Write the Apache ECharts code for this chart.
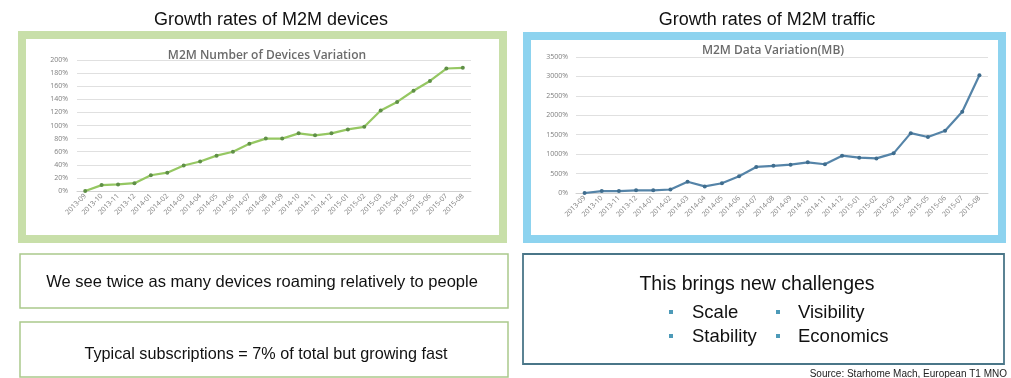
<!DOCTYPE html>
<html>
<head>
<meta charset="utf-8">
<script src="https://cdn.jsdelivr.net/npm/echarts@6/dist/echarts.min.js"></script>
<style>
html,body{margin:0;padding:0;background:#fff;}
#c{width:1011px;height:378px;}
</style>
</head>
<body>
<div id="c"></div>
<script>
var months = ['2013-09','2013-10','2013-11','2013-12','2014-01','2014-02','2014-03','2014-04','2014-05','2014-06','2014-07','2014-08','2014-09','2014-10','2014-11','2014-12','2015-01','2015-02','2015-03','2015-04','2015-05','2015-06','2015-07','2015-08'];
var devicesGrowth = [0,9,10,12,24,28,39,45,54,60,72,80,80,88,85,88,94,98,123,136,153,168,187,188];
var trafficGrowth = [0,50,50,70,70,90,290,170,250,430,670,700,730,790,740,960,910,890,1020,1540,1440,1600,2090,3030];
var devicesTicks = {min:0, max:200, interval:20};
var trafficTicks = {min:0, max:3500, interval:500};

var chart = echarts.init(document.getElementById('c'), null, {renderer:'canvas'});

var pct = function(v){ return v + '%'; };
var axisLabelY = {fontSize:7, color:'#7f7f7f', formatter:pct, fontFamily:'Open Sans'};
var axisLabelX = {fontSize:7, color:'#7f7f7f', rotate:45, interval:0, margin:4, fontFamily:'Open Sans'};
var splitLine = {show:true, lineStyle:{color:'#e0e0e0', width:1}};

var txt = function(x, y, s, size, opts) {
  opts = opts || {};
  return {type:'text', x:x, y:y, z:10, style:{text:s, font:(opts.weight||'normal')+' '+size+'px "Liberation Sans", Arial, sans-serif', fill:opts.color||'#111', align:opts.align||'center', verticalAlign:'middle'}};
};

chart.setOption({
  animation:false,
  backgroundColor:'#fff',
  title:[
    {text:'M2M Number of Devices Variation', left:262, top:45, textAlign:'center', textStyle:{fontSize:12, fontWeight:600, color:'#6b6b6b', fontFamily:'Open Sans'}},
    {text:'M2M Data Variation(MB)', left:768, top:40, textAlign:'center', textStyle:{fontSize:12, fontWeight:600, color:'#6b6b6b', fontFamily:'Open Sans'}}
  ],
  grid:[
    {left:77, width:394, top:60, height:131, containLabel:false},
    {left:576, width:412, top:57, height:136, containLabel:false}
  ],
  xAxis:[
    {type:'category', gridIndex:0, data:months, boundaryGap:true, axisLine:{lineStyle:{color:'#d0d0d0'}}, axisTick:{show:false}, axisLabel:axisLabelX},
    {type:'category', gridIndex:1, data:months, boundaryGap:true, axisLine:{lineStyle:{color:'#d0d0d0'}}, axisTick:{show:false}, axisLabel:axisLabelX}
  ],
  yAxis:[
    {type:'value', gridIndex:0, min:devicesTicks.min, max:devicesTicks.max, interval:devicesTicks.interval, axisLine:{show:false}, axisTick:{show:false}, axisLabel:Object.assign({margin:9}, axisLabelY), splitLine:splitLine},
    {type:'value', gridIndex:1, min:trafficTicks.min, max:trafficTicks.max, interval:trafficTicks.interval, axisLine:{show:false}, axisTick:{show:false}, axisLabel:Object.assign({margin:8}, axisLabelY), splitLine:splitLine}
  ],
  series:[
    {type:'line', xAxisIndex:0, yAxisIndex:0, data:devicesGrowth, symbol:'circle', symbolSize:4, lineStyle:{color:'#95c762', width:2.2}, itemStyle:{color:'#5f8f47'}},
    {type:'line', xAxisIndex:1, yAxisIndex:1, data:trafficGrowth, symbol:'circle', symbolSize:4, lineStyle:{color:'#5584a8', width:2.2}, itemStyle:{color:'#3f6d8e'}}
  ],
  graphic:[
    {type:'rect', z:-1, shape:{x:22, y:35, width:481, height:204}, style:{fill:'#fff', stroke:'#c8dfa9', lineWidth:8}},
    {type:'rect', z:-1, shape:{x:527, y:36, width:475, height:203}, style:{fill:'#fff', stroke:'#8dd3ef', lineWidth:8}},
    {type:'rect', z:1, shape:{x:20, y:254, width:488, height:54}, style:{fill:'#fff', stroke:'#aac98c', lineWidth:1.5}},
    {type:'rect', z:1, shape:{x:20, y:322, width:488, height:55}, style:{fill:'#fff', stroke:'#aac98c', lineWidth:1.5}},
    {type:'rect', z:1, shape:{x:523, y:254, width:481, height:110}, style:{fill:'#fff', stroke:'#4a7688', lineWidth:1.8}},
    txt(271, 20, 'Growth rates of M2M devices', 18),
    txt(767, 20, 'Growth rates of M2M traffic', 18),
    txt(262, 282, 'We see twice as many devices roaming relatively to people', 16.5),
    txt(266, 355, 'Typical subscriptions = 7% of total but growing fast', 16.2),
    txt(757, 285, 'This brings new challenges', 19.5),
    {type:'rect', z:10, shape:{x:669, y:310, width:4, height:4}, style:{fill:'#4d9ab8'}},
    {type:'rect', z:10, shape:{x:776, y:310, width:4, height:4}, style:{fill:'#4d9ab8'}},
    {type:'rect', z:10, shape:{x:669, y:334, width:4, height:4}, style:{fill:'#4d9ab8'}},
    {type:'rect', z:10, shape:{x:776, y:334, width:4, height:4}, style:{fill:'#4d9ab8'}},
    txt(692, 313, 'Scale', 18.5, {align:'left'}),
    txt(798, 313, 'Visibility', 18.5, {align:'left'}),
    txt(692, 337, 'Stability', 18.5, {align:'left'}),
    txt(798, 337, 'Economics', 18.5, {align:'left'}),
    txt(1007, 374, 'Source: Starhome Mach, European T1 MNO', 10, {align:'right', color:'#222'})
  ]
});
</script>
</body>
</html>
